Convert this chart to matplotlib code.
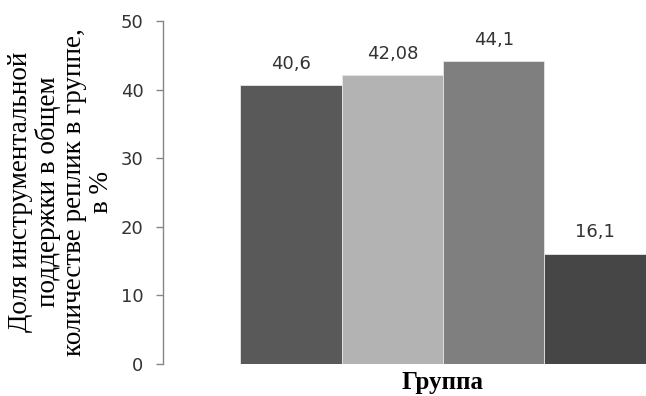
import numpy as np
import matplotlib
matplotlib.use("Agg")
import matplotlib.pyplot as plt

# share of instrumental support per group, %
groups = ["1", "2", "3", "4"]
values = [40.6, 42.08, 44.1, 16.1]
value_labels = ["40,6", "42,08", "44,1", "16,1"]
bar_colors = ["#595959", "#b3b3b3", "#7f7f7f", "#464646"]
yticks = [0, 10, 20, 30, 40, 50]

ylabel = "Доля инструментальной\nподдержки в общем\nколичестве реплик в группе,\nв %"
xlabel = "Группа"

fig = plt.figure(figsize=(6.46, 3.96), dpi=100)
# plot area runs past the right edge of the canvas, as in the source sheet
ax = fig.add_axes([163 / 646, 32 / 396, 560 / 646, 343 / 396])

x = np.arange(len(values))
ax.bar(x, values, width=1.0, color=bar_colors, edgecolor="#e6e6e6", linewidth=0.6)

for xi, v, lab in zip(x, values, value_labels):
    ax.annotate(lab, xy=(xi, v), xytext=(0, 9), textcoords="offset points",
                ha="center", va="bottom", fontsize=13, color="#333333",
                family="DejaVu Sans")

ax.set_xlim(-1.259, 4.259)
ax.set_ylim(0, 50)
ax.set_yticks(yticks)
ax.set_yticklabels([str(t) for t in yticks], fontsize=13, color="#333333",
                   family="DejaVu Sans")
ax.tick_params(axis="y", direction="out", length=5, width=1, color="#868686", pad=9)
ax.set_xticks([])

for side in ["top", "right", "bottom"]:
    ax.spines[side].set_visible(False)
ax.spines["left"].set_color("#868686")
ax.spines["left"].set_linewidth(1)

ax.set_xlabel(xlabel, fontsize=18, fontweight="bold", family="Liberation Serif",
              labelpad=5)
fig.text(61 / 646, 1 - 192 / 396, ylabel, rotation=90, ha="center", va="center",
         multialignment="center", fontsize=19.5, family="Liberation Serif",
         linespacing=1.08)

fig.savefig("out.png", dpi=100)
